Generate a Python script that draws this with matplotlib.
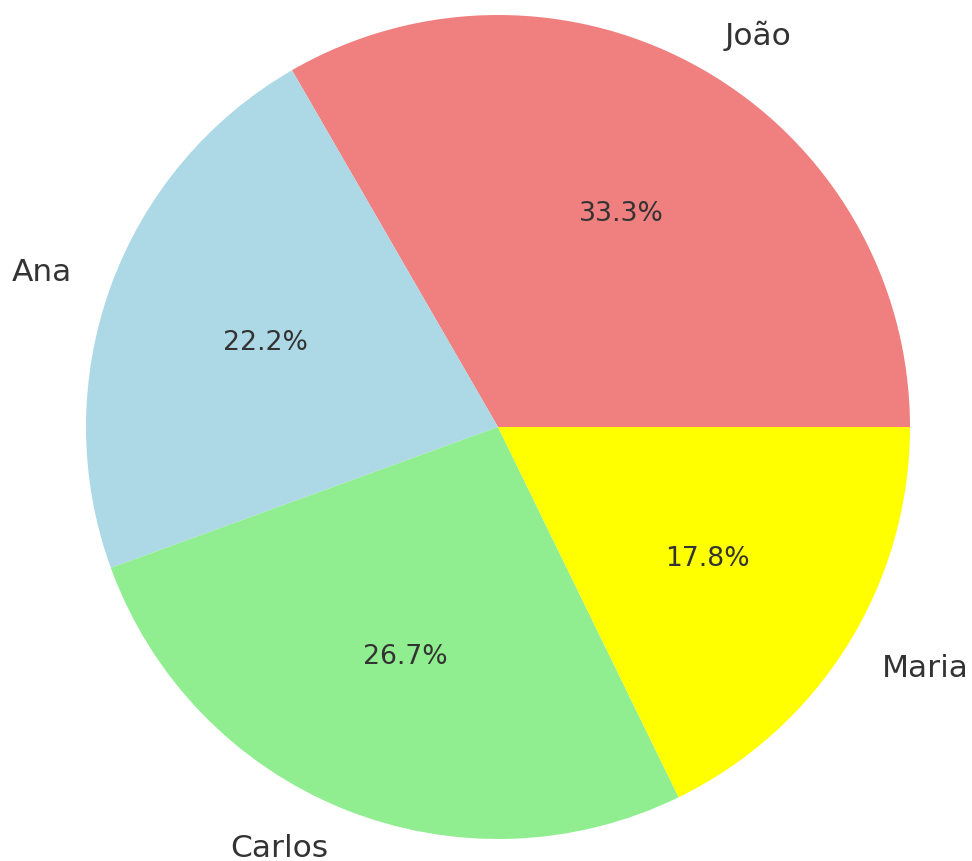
import matplotlib
matplotlib.use("Agg")
import matplotlib.pyplot as plt

# data
names = ["João", "Ana", "Carlos", "Maria"]
values = [15, 10, 12, 8]
colors = ["lightcoral", "lightblue", "lightgreen", "yellow"]

fig = plt.figure(figsize=(9.72, 8.62), dpi=100)
# square axes holding the pie, radius ~412 px, center at (498, 428)
ax = fig.add_axes([86 / 972, 22 / 862, 824 / 972, 824 / 862])

wedges, texts, autotexts = ax.pie(
    values, labels=names, colors=colors, autopct="%1.1f%%", startangle=0,
    textprops={"color": "#333333", "fontsize": 22.5},
)
for t in autotexts:
    t.set_fontsize(19.2)

ax.set_xlim(-1, 1)
ax.set_ylim(-1, 1)
ax.set_aspect("equal")

fig.savefig("out.png", dpi=100)
